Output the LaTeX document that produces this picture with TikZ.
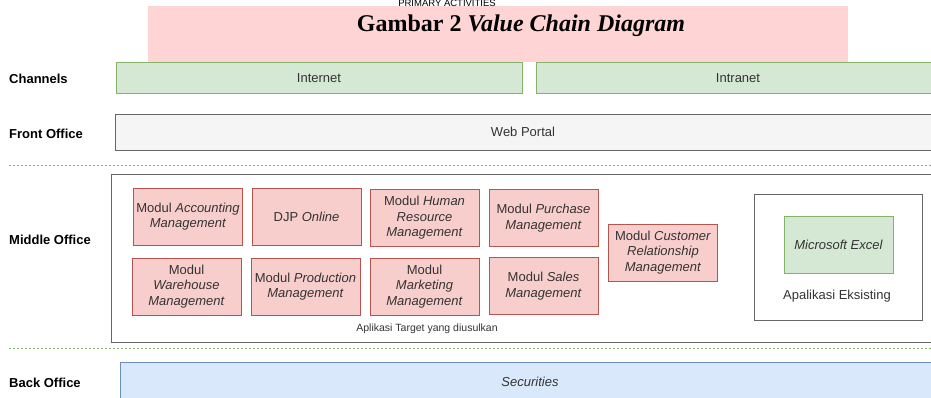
\documentclass[tikz,border=0pt]{standalone}
\usepackage{fontspec}
\setmainfont{Liberation Sans}
\newfontfamily\titlefont{Liberation Serif}
\definecolor{grnfill}{HTML}{D5E8D4}
\definecolor{grnline}{HTML}{82B366}
\definecolor{redfill}{HTML}{F8CECC}
\definecolor{redline}{HTML}{B85450}
\definecolor{greyfill}{HTML}{F5F5F5}
\definecolor{greyline}{HTML}{666666}
\definecolor{bluefill}{HTML}{DAE8FC}
\definecolor{blueline}{HTML}{6C8EBF}
\definecolor{titlepink}{HTML}{FFD4D4}
\definecolor{txtgrey}{HTML}{333333}
\newcommand{\boxfont}{\fontsize{13}{15.5}\selectfont}

\tikzset{
  lane/.style={anchor=west, inner sep=0pt, font=\fontsize{13}{15}\selectfont\bfseries},
  chanbox/.style={draw=grnline, fill=grnfill, minimum height=31, inner sep=0pt, text=txtgrey, font=\boxfont},
  modbox/.style={draw=redline, fill=redfill, minimum width=109, minimum height=57, inner sep=0pt, align=center, text=txtgrey, font=\boxfont},
  sepline/.style={draw=grnline, line width=0.8pt, dash pattern=on 2pt off 2pt}
}

\begin{document}
\begin{tikzpicture}[x=1pt, y=-1pt]
        \clip (0,0) rectangle (931,398);
        % title band
        \node[fill=titlepink, minimum width=700, minimum height=56, inner sep=0pt] (band) at (498,34) {};
        \node[anchor=base, font=\fontsize{9.5}{11}\selectfont] (prim) at (447,6.5) {PRIMARY ACTIVITIES};
        \node[anchor=base, font=\titlefont\fontsize{24}{27}\selectfont\bfseries] (title) at (521,32) {Gambar 2 \textit{Value Chain Diagram}};

        % channels and front office
        \node[lane] (lchan) at (9,79) {Channels};
        \node[chanbox, minimum width=406] (inet) at (319,78) {Internet};
        \node[chanbox, minimum width=404] (intra) at (738,78) {Intranet};
        \node[lane] (lfront) at (9,134) {Front Office};
        \node[draw=greyline, fill=greyfill, minimum width=816, minimum height=36, inner sep=0pt, text=txtgrey, font=\boxfont] (portal) at (523,132) {Web Portal};

        \coordinate (s1a) at (9,165);
        \coordinate (s1b) at (940,165);
        \draw[sepline] (s1a) -- (s1b);

        % middle office
        \node[lane] (lmid) at (9,240) {Middle Office};
        \node[draw=greyline, line width=0.9pt, minimum width=840, minimum height=168, inner sep=0pt] (target) at (531,258) {};
        \node[modbox] (acc) at (188,216.5) {Modul \textit{Accounting}\\\textit{Management}};
        \node[modbox] (djp) at (306.5,216.5) {DJP \textit{Online}};
        \node[modbox] (hrm) at (424.5,218) {Modul \textit{Human}\\\textit{Resource}\\\textit{Management}};
        \node[modbox] (pur) at (543.5,218) {Modul \textit{Purchase}\\\textit{Management}};
        \node[modbox] (ware) at (186.5,286.5) {Modul\\\textit{Warehouse}\\\textit{Management}};
        \node[modbox] (prod) at (305.5,286.5) {Modul \textit{Production}\\\textit{Management}};
        \node[modbox] (mkt) at (424.5,286.5) {Modul\\\textit{Marketing}\\\textit{Management}};
        \node[modbox] (sales) at (543.5,286) {Modul \textit{Sales}\\\textit{Management}};
        \node[modbox] (crm) at (663,252.5) {Modul \textit{Customer}\\\textit{Relationship}\\\textit{Management}};
        \node[text=txtgrey, font=\fontsize{10.5}{12}\selectfont] (tlabel) at (427,329) {Aplikasi Target yang diusulkan};

        \node[draw=greyline, line width=0.9pt, minimum width=168, minimum height=126, inner sep=0pt] (exist) at (838,257) {};
        \node[draw=grnline, fill=grnfill, minimum width=109, minimum height=57, inner sep=0pt, text=txtgrey, font=\boxfont] (excel) at (838.5,244.5) {\textit{Microsoft Excel}};
        \node[text=txtgrey, font=\boxfont] (elabel) at (837,296) {Apalikasi Eksisting};

        \coordinate (s2a) at (9,348);
        \coordinate (s2b) at (940,348);
        \draw[sepline] (s2a) -- (s2b);

        % back office
        \node[lane] (lback) at (9,383) {Back Office};
        \node[draw=blueline, fill=bluefill, minimum width=820, minimum height=40, inner sep=0pt, text=txtgrey, font=\boxfont] (secur) at (530,382) {\textit{Securities}};
      \end{tikzpicture}
\end{document}
